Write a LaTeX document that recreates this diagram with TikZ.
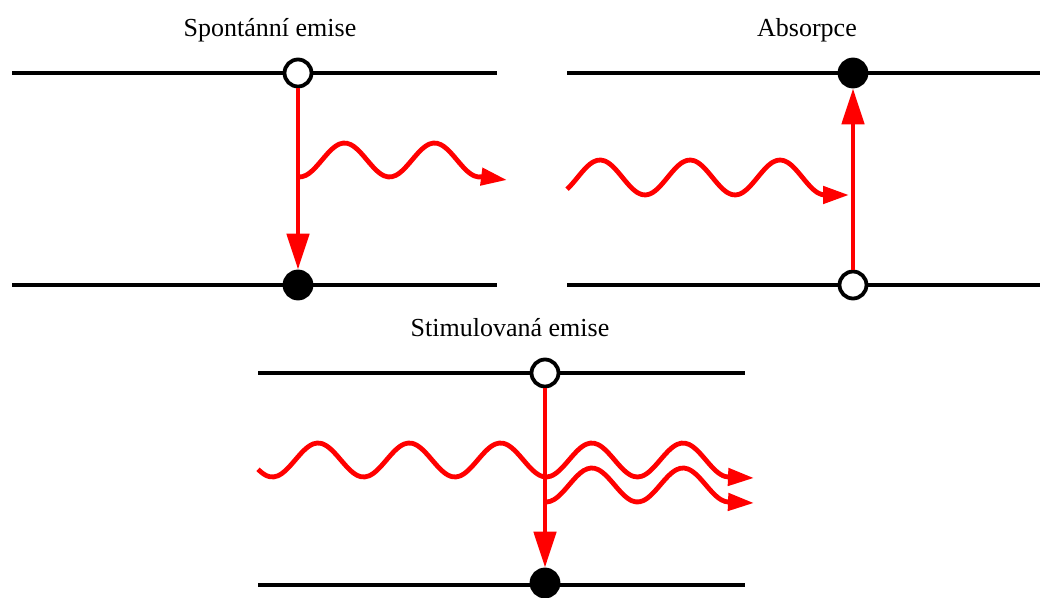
\documentclass[tikz,border=0pt]{standalone}
\usepackage{fontspec}
\setmainfont{Liberation Serif}
\usetikzlibrary{arrows.meta}
\definecolor{ink}{HTML}{000000}
\definecolor{photon}{HTML}{FF0000}
\tikzset{
  font=\fontsize{13}{15}\selectfont,
  %
  level/.style={draw=ink, line width=1.9pt},
  empty/.style={circle, draw=ink, line width=1.9pt, fill=white,
                minimum size=13.5pt, inner sep=0pt},
  full/.style={empty, fill=ink},
  %
  jump/.style={draw=photon, line width=2.4pt,
               -{Triangle[length=18pt, width=11pt]}},
  wave/.style={draw=photon, line width=2.4pt, line join=round,
               -{Triangle[length=13pt, width=8.5pt]}},
  %
  title/.style={anchor=base, inner sep=0pt, text=ink},
}

\begin{document}
\begin{tikzpicture}[x=0.5pt, y=-0.5pt]
  \useasboundingbox (0,0) rectangle (1040,598);

  \newcommand{\lvl}[4]{% name, x from, x to, y
    \coordinate (#1w) at (#2,#4);
    \coordinate (#1e) at (#3,#4);
    \draw[level] (#1w) -- (#1e);
  }

  % --- energy levels -----------------------------------------------------
  \lvl{sU}{12}{497}{73}
  \lvl{sL}{12}{497}{285}
  \lvl{aU}{567}{1040}{73}
  \lvl{aL}{567}{1040}{285}
  \lvl{tU}{258}{745}{373}
  \lvl{tL}{258}{745}{585}

  % --- spontaneous emission ----------------------------------------------
  \node[title] (sT) at (270,37) {Spontánní emise};
  \node[empty] (s2) at (298,73) {};
  \node[full]  (s1) at (298,285) {};
  \draw[jump] (s2) -- (s1);
  \draw[wave] plot[smooth, domain=298:482, samples=50]
    ({\x},{160-17*sin(4*(\x-322))}) -- (507,180);

  % --- absorption --------------------------------------------------------
  \node[title] (aT) at (807,37) {Absorpce};
  \node[full]  (a2) at (853,73) {};
  \node[empty] (a1) at (853,285) {};
  \draw[jump] (a1) -- (a2);
  \draw[wave] plot[smooth, domain=567:825, samples=70]
    ({\x},{177.5-17.5*sin(4*(\x-577.5))}) -- (849,195);

  % --- stimulated emission -----------------------------------------------
  \node[title] (tT) at (510,337) {Stimulovaná emise};
  \node[empty] (t2) at (545,373) {};
  \node[full]  (t1) at (545,583) {};
  \draw[jump] (t2) -- (t1);
  \draw[wave] plot[smooth, domain=258:728.6, samples=120]
    ({\x},{460-17*sin(3.945*(\x-295.2))}) -- (754,478);
  \draw[wave] plot[smooth, domain=546.4:728.6, samples=50]
    ({\x},{485-17*sin(3.945*(\x-295.2))}) -- (754,503);

\end{tikzpicture}
\end{document}
